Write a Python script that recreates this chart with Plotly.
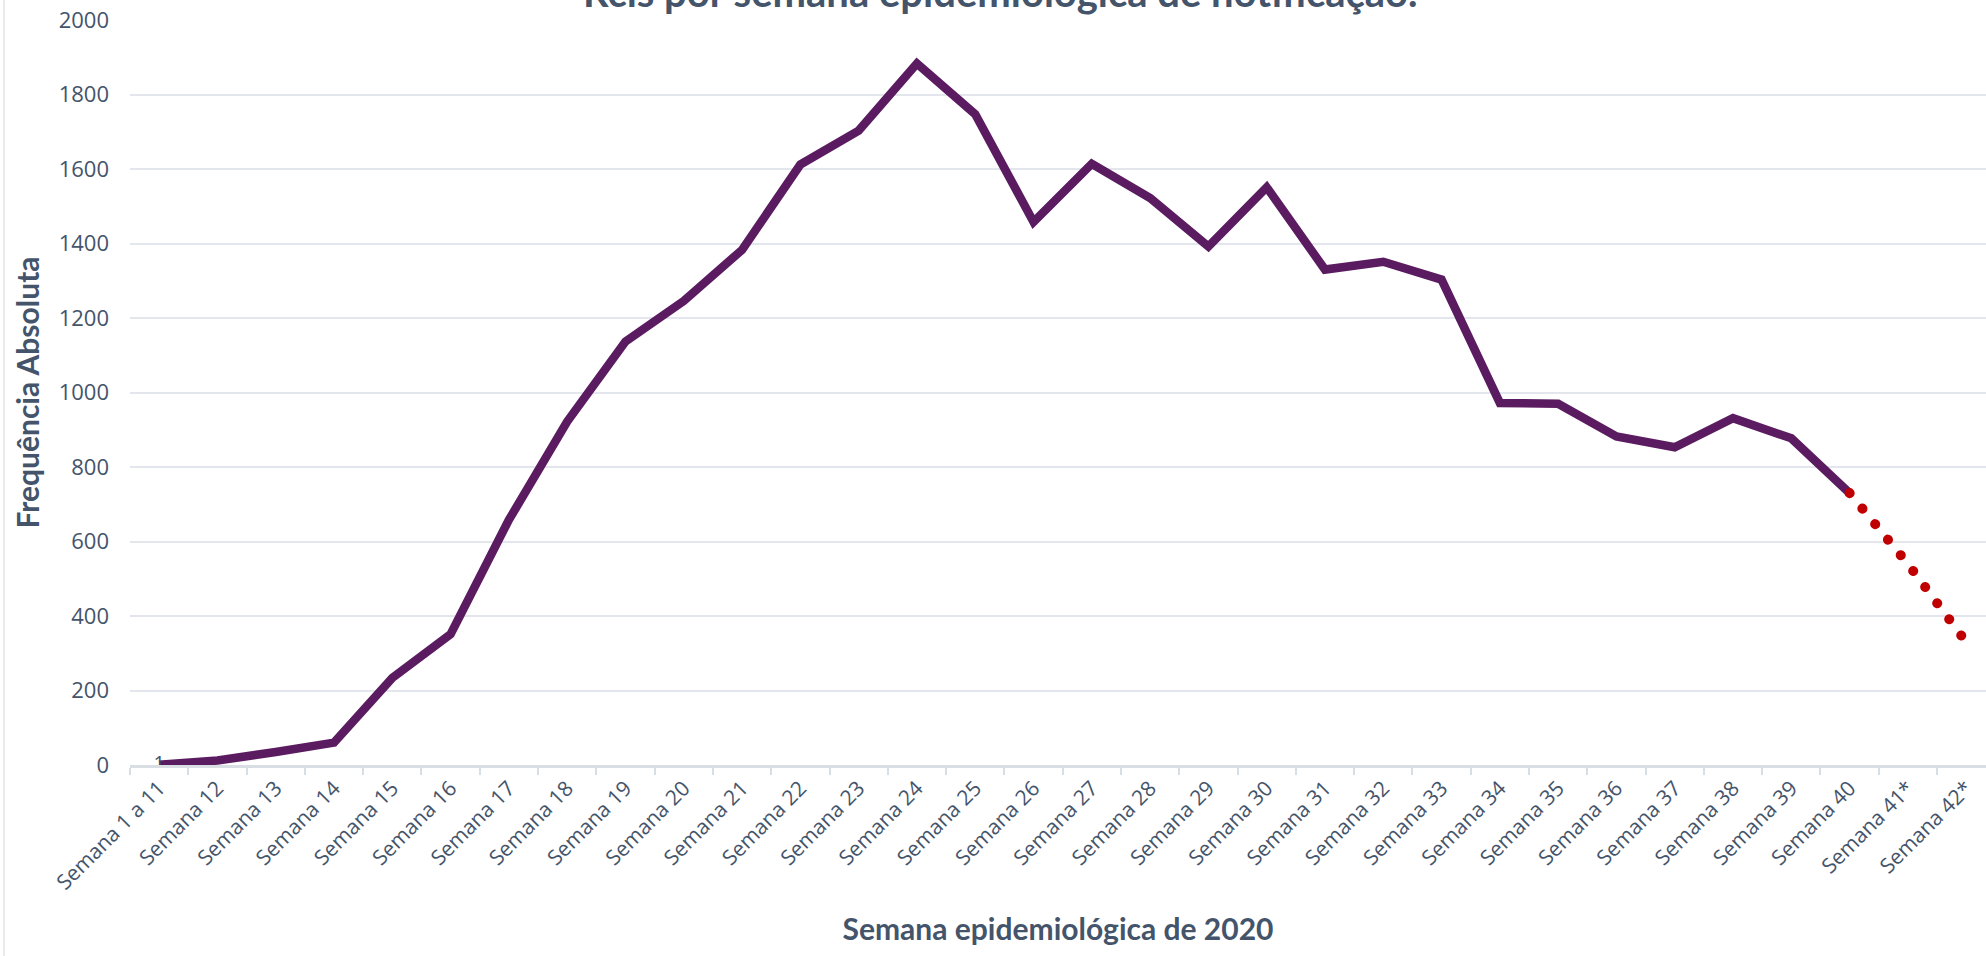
import plotly.graph_objects as go

# ---- data ----
semanas = ["Semana 1 a 11"] + [f"Semana {i}" for i in range(12, 41)]
casos = [1, 12, 35, 60, 234, 351, 658, 922, 1137, 1246, 1383, 1612, 1703, 1883,
         1747, 1458, 1614, 1522, 1392, 1551, 1330, 1351, 1303, 972, 970, 882,
         853, 931, 877, 730]
semanas_proj = ["Semana 40", "Semana 41*", "Semana 42*"]
casos_proj = [730, 540, 330]
todas_semanas = semanas + ["Semana 41*", "Semana 42*"]
rotulo_primeiro = ["1"] + [""] * (len(casos) - 1)

titulo = "Rcis por semana epidemiológica de notificação."
titulo_x = "Semana epidemiológica de 2020"
titulo_y = "Frequência Absoluta"
y_ticks = list(range(0, 2001, 200))

TXT = "#44546A"
GRID = "#E3E7ED"
AXIS = "#D9DDE4"

fig = go.Figure()
fig.add_trace(go.Scatter(
    x=semanas, y=casos, mode="lines+text",
    text=rotulo_primeiro, textposition="middle center",
    textfont=dict(family="Open Sans", size=20, color=TXT),
    line=dict(color="#5B1B60", width=8.5),
    hoverinfo="x+y", showlegend=False,
))
fig.add_trace(go.Scatter(
    x=semanas_proj, y=casos_proj, mode="lines",
    line=dict(color="#C00000", width=10, dash="9px,11px"),
    hoverinfo="x+y", showlegend=False,
))

fig.update_layout(
    width=1986, height=956, autosize=False,
    margin=dict(l=130, r=0, t=20, b=191, pad=0),
    paper_bgcolor="white", plot_bgcolor="white",
    xaxis=dict(
        type="category", categoryorder="array", categoryarray=todas_semanas,
        range=[-0.5, 31.34], tickson="boundaries",
        ticks="outside", ticklen=7, tickwidth=2, tickcolor=AXIS,
        showline=True, linecolor=AXIS, linewidth=2.5,
        showgrid=False, tickangle=-45,
        tickfont=dict(family="Open Sans", size=21, color=TXT),
        title=dict(text=titulo_x, standoff=25,
                   font=dict(family="Lato", size=30, color=TXT, weight="bold")),
        automargin=False,
    ),
    yaxis=dict(
        range=[0, 2000], tickvals=y_ticks, showgrid=True,
        gridcolor=GRID, gridwidth=1.6, zeroline=False, showline=False,
        ticks="", ticklabelstandoff=20,
        tickfont=dict(family="Open Sans", size=22, color=TXT),
        title=dict(text=titulo_y, standoff=10,
                   font=dict(family="Lato", size=30, color=TXT, weight="bold")),
        automargin=False,
    ),
    annotations=[dict(text=titulo, xref="paper", yref="paper",
                      x=(1000 - 130) / 1856, xanchor="center",
                      y=1 + 2 / 745, yanchor="bottom", showarrow=False,
                      font=dict(family="Lato", size=40, color=TXT, weight="bold"))],
    shapes=[dict(type="line", xref="paper", yref="paper",
                 x0=-126 / 1856, x1=-126 / 1856, y0=-191 / 745, y1=1 + 20 / 745,
                 line=dict(color="#E1E4E8", width=1.5))],
)

post = """
document.body.style.margin = '0';
document.body.style.overflow = 'hidden';
document.documentElement.style.overflow = 'hidden';
var gd = document.getElementById('{plot_id}');
function fixDots(){
  var tr = gd.querySelectorAll('.scatterlayer .trace');
  if (tr.length < 2) return;
  tr[1].querySelectorAll('path.js-line').forEach(function(p){
    p.style.strokeLinecap = 'round';
    p.style.strokeDasharray = '0.1px,20px';
  });
}
fixDots();
if (gd.on) gd.on('plotly_afterplot', fixDots);
"""
fig.write_html("out.html", post_script=post, config={"displayModeBar": False})
